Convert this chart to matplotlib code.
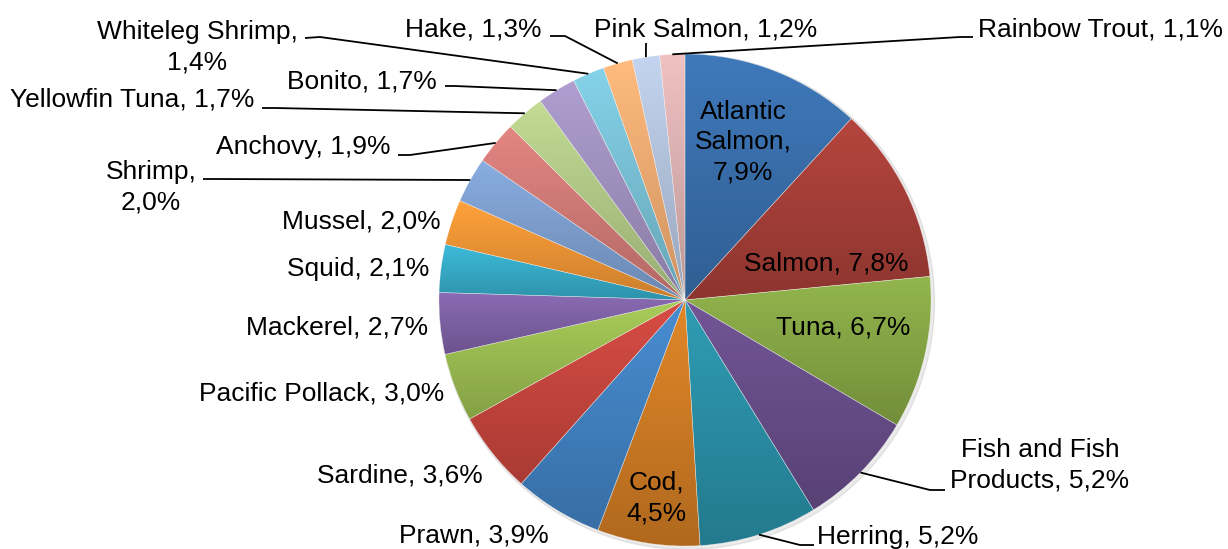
import numpy as np
import matplotlib
matplotlib.use("Agg")
import matplotlib.pyplot as plt
from matplotlib.colors import to_rgb

plt.rcParams['font.family'] = ['Liberation Sans', 'DejaVu Sans']

# ---- data -------------------------------------------------------------
species = ["Atlantic Salmon", "Salmon", "Tuna", "Fish and Fish Products",
           "Herring", "Cod", "Prawn", "Sardine", "Pacific Pollack",
           "Mackerel", "Squid", "Mussel", "Shrimp", "Anchovy",
           "Yellowfin Tuna", "Bonito", "Whiteleg Shrimp", "Hake",
           "Pink Salmon", "Rainbow Trout"]
shares = [7.9, 7.8, 6.7, 5.2, 5.2, 4.5, 3.9, 3.6, 3.0, 2.7,
          2.1, 2.0, 2.0, 1.9, 1.7, 1.7, 1.4, 1.3, 1.2, 1.1]
colors = ["#3970AE", "#A83F38", "#88A946", "#694E8B", "#2A91A8", "#D27D24",
          "#4283C4", "#C9463E", "#9DBF52", "#8063A8", "#37AECB", "#F39635",
          "#7FA1D2", "#D47C78", "#B4CD89", "#A393C2", "#7BC4D9", "#F6AE74",
          "#B6C6E0", "#E0B4B4"]

# ---- layout (pixel coords, y measured from the top) -------------------
W, H = 1228, 549
CX, CY, R = 685, 300, 246

# label text templates ({p} = formatted share)
label_fmt = {
    "Atlantic Salmon": "Atlantic\nSalmon,\n{p}",
    "Fish and Fish Products": "Fish and Fish\nProducts, {p}",
    "Cod": "Cod,\n{p}",
    "Shrimp": "Shrimp,\n{p}",
    "Whiteleg Shrimp": "Whiteleg Shrimp,\n{p}",
}
# label centre positions
label_pos = {
    "Atlantic Salmon": (743, 142), "Salmon": (826, 263), "Tuna": (843, 327),
    "Fish and Fish Products": (1040, 465), "Herring": (898, 537),
    "Cod": (656, 498), "Prawn": (474, 535), "Sardine": (400, 475),
    "Pacific Pollack": (322, 393), "Mackerel": (337, 327),
    "Squid": (358, 269), "Mussel": (361, 222), "Shrimp": (151, 187),
    "Anchovy": (303, 147), "Yellowfin Tuna": (132, 99),
    "Bonito": (362, 81), "Whiteleg Shrimp": (197, 47),
    "Hake": (473, 30), "Pink Salmon": (706, 30), "Rainbow Trout": (1100, 30),
}
# leader lines: (start at label, elbow) -> ends on the slice edge
leaders = {
    "Fish and Fish Products": ((945, 490), (930, 490)),
    "Herring": ((814, 545), (800, 545)),
    "Shrimp": ((203, 179), (215, 179)),
    "Anchovy": ((398, 155), (410, 155)),
    "Yellowfin Tuna": ((262, 108), (275, 108)),
    "Bonito": ((445, 86), (455, 86)),
    "Whiteleg Shrimp": ((305, 38), (320, 37)),
    "Hake": ((550, 36), (565, 36)),
    "Pink Salmon": ((646, 43), (646, 45)),
    "Rainbow Trout": ((973, 37), (960, 37)),
}


def Y(y):
    return H - y


fig = plt.figure(figsize=(W / 100, H / 100), dpi=100)
ax = fig.add_axes([0, 0, 1, 1])

# faint shadow behind the pie
shadow = plt.Circle((CX + 2, Y(CY) - 2), R + 1.5, color="#000000", alpha=0.08, zorder=0)
ax.add_patch(shadow)

wedges, _ = ax.pie(shares, colors=colors, startangle=90, counterclock=False,
                   center=(CX, Y(CY)), radius=R,
                   wedgeprops=dict(linewidth=0.4, edgecolor=(1, 1, 1, 0.45)))

# vertical gradient in every slice (lighter on top, darker at the bottom)
for w, c in zip(wedges, colors):
    base = np.array(to_rgb(c))
    top = np.clip(base * 1.06 + 0.01, 0, 1)
    bot = base * 0.84
    t = np.linspace(0, 1, 64)[:, None]
    grad = (top[None, :] * (1 - t) + bot[None, :] * t)[:, None, :]
    bb = w.get_path().get_extents()
    im = ax.imshow(grad, extent=(bb.x0, bb.x1, bb.y0, bb.y1), origin="upper",
                   aspect="auto", interpolation="bilinear", zorder=1)
    im.set_clip_path(w)
    w.set_facecolor("none")
    w.set_zorder(2)

# labels
for name, val, w in zip(species, shares, wedges):
    p = f"{val:.1f}".replace(".", ",") + "%"
    txt = label_fmt.get(name, "{n}, {p}").format(n=name, p=p)
    x, y = label_pos[name]
    ax.text(x, Y(y), txt, ha="center", va="center", fontsize=19,
            color="#000000", linespacing=1.32, zorder=5)
    if name in leaders:
        (sx, sy), (ex, ey) = leaders[name]
        mid = np.deg2rad((w.theta1 + w.theta2) / 2)
        px = CX + R * np.cos(mid)
        py = Y(CY) + R * np.sin(mid)
        ax.plot([sx, ex, px], [Y(sy), Y(ey), py], color="#000000", lw=1.3,
                solid_capstyle="butt", zorder=4)

ax.set_xlim(0, W)
ax.set_ylim(0, H)
ax.set_aspect("equal")
ax.axis("off")

fig.savefig("out.png", dpi=100, facecolor="white")
